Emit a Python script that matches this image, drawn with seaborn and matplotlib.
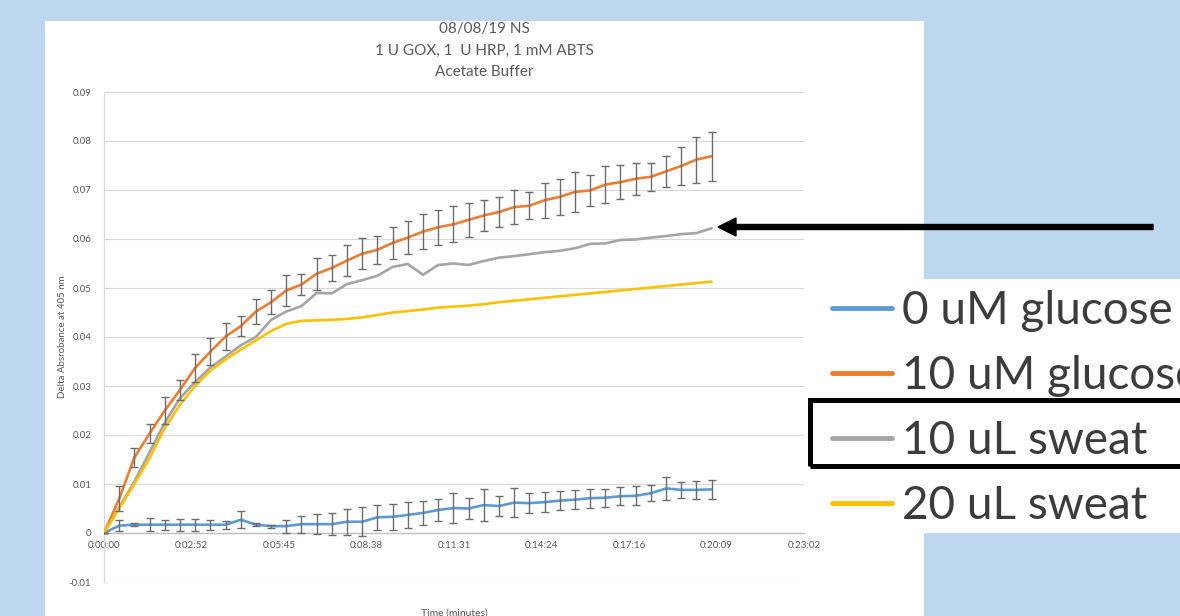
import matplotlib
matplotlib.use("Agg")
import matplotlib.pyplot as plt
import seaborn as sns
import pandas as pd
from matplotlib.patches import Rectangle, FancyArrow
from matplotlib.lines import Line2D
from matplotlib.transforms import IdentityTransform

# ---------------- data ----------------
time_s = [0, 30, 60, 90, 120, 150, 180, 210, 240, 270, 300, 330, 360, 390, 420,
          450, 480, 510, 540, 570, 600, 630, 660, 690, 720, 750, 780, 810, 840,
          870, 900, 930, 960, 990, 1020, 1050, 1080, 1110, 1140, 1170, 1200]

glucose_0 = [0, .0015, .0017, .0017, .0017, .0017, .0017, .0017, .0017, .0027,
             .0017, .0014, .0014, .0018, .0018, .0018, .0023, .0023, .0032, .0033,
             .0037, .0041, .0047, .0051, .0050, .0057, .0055, .0062, .0061, .0063,
             .0066, .0068, .0071, .0072, .0075, .0076, .0081, .0091, .0088, .0088, .0089]
glucose_0_err = [0, .0011, .0003, .0013, .0010, .0012, .0012, .0010, .0008, .0017,
                 .0003, .0003, .0013, .0017, .0020, .0023, .0027, .0030, .0026, .0027,
                 .0026, .0024, .0023, .0030, .0022, .0033, .0020, .0029, .0020, .0020,
                 .0019, .0020, .0019, .0018, .0018, .0019, .0016, .0023, .0017, .0019, .0020]

glucose_10 = [0, .0070, .0154, .0203, .0250, .0292, .0337, .0370, .0401, .0422,
              .0452, .0471, .0495, .0507, .0529, .0541, .0556, .0570, .0578, .0592,
              .0603, .0615, .0624, .0630, .0639, .0648, .0655, .0665, .0668, .0679,
              .0686, .0696, .0699, .0711, .0716, .0723, .0727, .0738, .0749, .0762, .0769]
glucose_10_err = [0, .0026, .0020, .0020, .0027, .0021, .0029, .0027, .0028, .0020,
                  .0026, .0024, .0031, .0022, .0033, .0026, .0032, .0032, .0028, .0032,
                  .0033, .0036, .0036, .0037, .0034, .0031, .0031, .0034, .0027, .0036,
                  .0036, .0040, .0031, .0037, .0035, .0033, .0029, .0032, .0038, .0047, .0050]

sweat_10 = [0, .0052, .0105, .0165, .0225, .0275, .0308, .0338, .0360, .0383,
            .0400, .0435, .0452, .0463, .0490, .0489, .0508, .0516, .0525, .0543,
            .0549, .0527, .0547, .0550, .0547, .0555, .0562, .0565, .0569, .0573,
            .0576, .0581, .0590, .0591, .0598, .0599, .0603, .0606, .0610, .0612, .0622]

sweat_20 = [0, .0050, .0100, .0153, .0214, .0262, .0300, .0331, .0354, .0374,
            .0393, .0412, .0427, .0433, .0434, .0435, .0437, .0440, .0445, .0450,
            .0453, .0456, .0460, .0462, .0464, .0467, .0471, .0474, .0477, .0480,
            .0483, .0486, .0489, .0492, .0495, .0498, .0501, .0504, .0507, .0510, .0513]

series_names = ["0 uM glucose", "10 uM glucose", "10 uL sweat", "20 uL sweat"]
series_colors = ["#5B9BD5", "#ED7D31", "#A5A5A5", "#FFC000"]

x_tick_pos = [0, 172.8, 345.6, 518.4, 691.2, 864.0, 1036.8, 1209.6, 1382.4]
x_tick_labels = ["0:00:00", "0:02:52", "0:05:45", "0:08:38", "0:11:31",
                 "0:14:24", "0:17:16", "0:20:09", "0:23:02"]
y_ticks = [-0.01, 0, 0.01, 0.02, 0.03, 0.04, 0.05, 0.06, 0.07, 0.08, 0.09]
y_tick_labels = ["-0.01", "0", "0.01", "0.02", "0.03", "0.04", "0.05",
                 "0.06", "0.07", "0.08", "0.09"]

title_lines = ["08/08/19 NS", "1 U GOX, 1  U HRP, 1 mM ABTS", "Acetate Buffer"]
x_label = "Time (minutes)"
y_label = "Delta Absrobance at 405 nm"

# ---------------- layout helpers ----------------
W, H = 1180, 616
def fx(px):
    return px / W
def fy(py):
    return 1 - py / H

sns.set_theme(style="white")
plt.rcParams["font.family"] = ["Lato", "DejaVu Sans"]

fig = plt.figure(figsize=(W / 100, H / 100), dpi=100)
fig.patch.set_facecolor("#BDD7EE")

# white chart panel
fig.add_artist(Rectangle((fx(45), 0), fx(924) - fx(45), fy(21), transform=fig.transFigure,
                         facecolor="white", edgecolor="none", zorder=-5))

ax = fig.add_axes([fx(104), fy(582), (804 - 104) / W, (582 - 92) / H])
ax.set_facecolor("none")

df = pd.DataFrame({
    "time": time_s * 4,
    "value": glucose_0 + glucose_10 + sweat_10 + sweat_20,
    "series": sum([[n] * len(time_s) for n in series_names], []),
})
sns.lineplot(data=df, x="time", y="value", hue="series", hue_order=series_names,
             palette=series_colors, linewidth=1.9, errorbar=None, sort=False,
             legend=False, ax=ax, zorder=3)

for vals, errs in [(glucose_0, glucose_0_err), (glucose_10, glucose_10_err)]:
    ax.errorbar(time_s, vals, yerr=errs, fmt="none", ecolor="#6b6b6b",
                elinewidth=1.0, capsize=3, capthick=1.0, zorder=4)

ax.set_xlim(0, 1382.4)
ax.set_ylim(-0.01, 0.09)
ax.set_xticks(x_tick_pos)
ax.set_xticklabels(x_tick_labels)
ax.set_yticks(y_ticks)
ax.set_yticklabels(y_tick_labels)
ax.tick_params(axis="both", length=0, labelsize=7, labelcolor="#595959")
ax.tick_params(axis="x", pad=6)
ax.tick_params(axis="y", pad=9)
ax.grid(axis="y", color="#D9D9D9", linewidth=0.8)
ax.grid(axis="x", visible=False)
ax.set_axisbelow(True)
for s in ["top", "right"]:
    ax.spines[s].set_visible(False)
ax.spines["left"].set_color("#D9D9D9")
ax.spines["left"].set_linewidth(0.8)
ax.spines["bottom"].set_position(("data", 0))
ax.spines["bottom"].set_color("#BFBFBF")
ax.spines["bottom"].set_linewidth(1.0)

ax.set_ylabel(y_label, fontsize=7, color="#595959")
ax.yaxis.set_label_coords((67 - 104) / 700, 0.5)
ax.set_xlabel(x_label, fontsize=7.5, color="#595959")
ax.xaxis.set_label_coords(0.5, (582 - 609) / 490)

for line, ypix in zip(title_lines, [29, 51, 72]):
    fig.text(fx(484), fy(ypix), line, ha="center", va="center", fontsize=11,
             color="#595959")

# enlarged legend image
fig.add_artist(Rectangle((fx(832), fy(533)), fx(1180) - fx(832), fy(279) - fy(533),
                         transform=fig.transFigure, facecolor="white",
                         edgecolor="none", zorder=2))
handles = [Line2D([], [], color=c, linewidth=3.5) for c in series_colors]
leg = fig.legend(handles, series_names, loc="upper left",
                 bbox_to_anchor=(fx(832), fy(290)), bbox_transform=fig.transFigure,
                 frameon=False, fontsize=33, handlelength=1.31, handletextpad=0.22,
                 labelspacing=0.5, borderpad=0, borderaxespad=0)
leg.set_zorder(3)
for t in leg.get_texts():
    t.set_color("#3c3c3c")

# highlight box around "10 uL sweat"
fig.add_artist(Rectangle((810, 616 - 466), 400, 66, transform=IdentityTransform(),
                         fill=False, edgecolor="black", linewidth=3.6, zorder=6))
# arrow pointing at the gray curve
fig.add_artist(FancyArrow(1153, 616 - 227, 718 - 1153, 0, width=5, head_width=18,
                          head_length=18, length_includes_head=True,
                          transform=IdentityTransform(), color="black", zorder=6))

fig.savefig("out.png", dpi=100)
